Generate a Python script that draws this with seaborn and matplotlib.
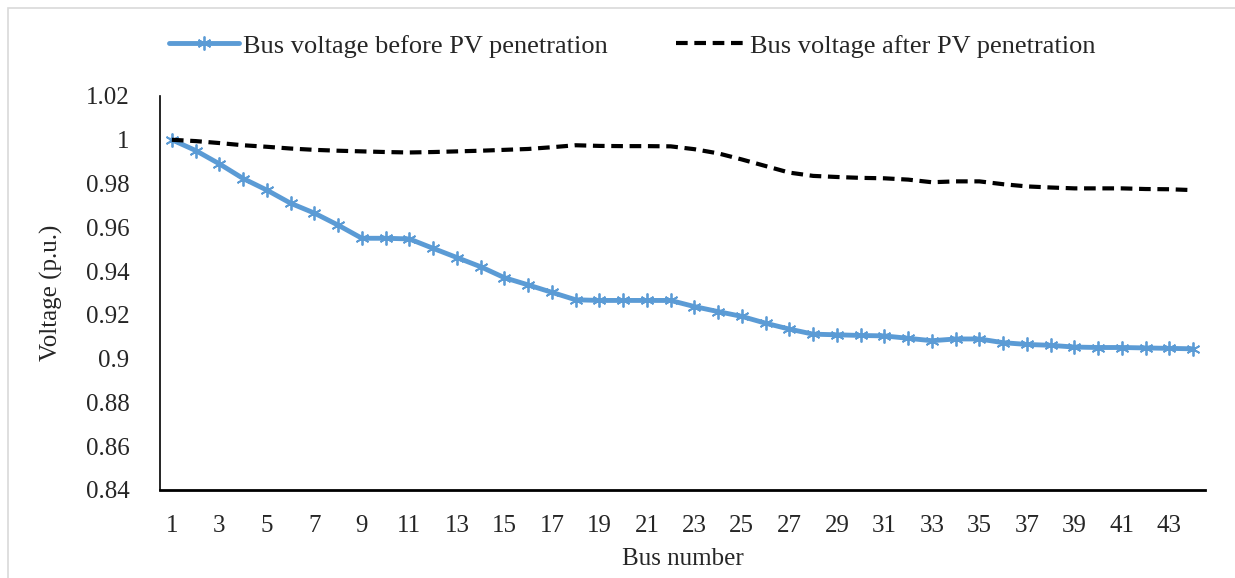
import numpy as np
import pandas as pd
import matplotlib.pyplot as plt
import seaborn as sns
from matplotlib.patches import Rectangle

bus = list(range(1, 45))
v_before = [1.000, 0.9951, 0.989, 0.9823, 0.977, 0.971, 0.9665, 0.961, 0.955, 0.955,
            0.9547, 0.9504, 0.9462, 0.942, 0.937, 0.9337, 0.9303, 0.9269, 0.9266, 0.9266,
            0.9266, 0.9266, 0.9238, 0.9215, 0.9193, 0.9162, 0.9135, 0.9112, 0.9109, 0.9106,
            0.9104, 0.9093, 0.9082, 0.909, 0.909, 0.9073, 0.9065, 0.9061, 0.9053, 0.9051,
            0.9051, 0.9049, 0.9047, 0.9045]
v_after = [1.000, 0.9994, 0.9985, 0.9975, 0.9968, 0.996, 0.9954, 0.995, 0.9947, 0.9944,
           0.9942, 0.9944, 0.9947, 0.995, 0.9954, 0.9958, 0.9966, 0.9975, 0.9972, 0.9971,
           0.9971, 0.997, 0.9957, 0.9938, 0.991, 0.988, 0.985, 0.9835, 0.983, 0.9826,
           0.9824, 0.9818, 0.9806, 0.981, 0.981, 0.9797, 0.9787, 0.9782, 0.9778, 0.9778,
           0.9778, 0.9775, 0.9774, 0.977]
labels = ["Bus voltage before PV penetration", "Bus voltage after PV penetration"]

df = pd.DataFrame({"bus": bus, "before": v_before, "after": v_after})

sns.set_style("white")
plt.rcParams['font.family'] = ['Liberation Serif', 'DejaVu Serif']

fig = plt.figure(figsize=(12.35, 5.78), dpi=100)
ax = fig.add_axes([160 / 1235, 1 - 490 / 578, 1045 / 1235, 394 / 578])

sns.lineplot(data=df, x="bus", y="before", ax=ax, color="#5B9BD5", lw=3.5,
             marker=(6, 2, 0), markersize=10, markeredgewidth=1.3,
             markeredgecolor="#5B9BD5", label=labels[0])
sns.lineplot(data=df, x="bus", y="after", ax=ax, color="black", lw=3,
             label=labels[1])
ax.lines[1].set_linestyle((0, (2.8, 1.6)))

ax.set_xlim(0.5, 44.5)
ax.set_ylim(0.84, 1.02)
ax.set_xticks(bus[::2])
ax.set_xticklabels([str(b) for b in bus[::2]])
ax.set_yticks(np.round(np.arange(0.84, 1.0201, 0.02), 2))
ax.set_yticklabels(["0.84", "0.86", "0.88", "0.9", "0.92", "0.94", "0.96", "0.98", "1", "1.02"])
ax.tick_params(axis="both", length=0, labelsize=18)
ax.tick_params(axis="x", pad=18)
ax.tick_params(axis="y", pad=22)

for s in ["top", "right"]:
    ax.spines[s].set_visible(False)
ax.spines["left"].set_color("black")
ax.spines["left"].set_linewidth(1.2)
ax.spines["bottom"].set_color("black")
ax.spines["bottom"].set_linewidth(2)

ax.set_xlabel("Bus number", fontsize=18, labelpad=8)
ax.set_ylabel("Voltage (p.u.)", fontsize=18, labelpad=16)

ax.legend(loc="center", bbox_to_anchor=(632 / 1235, 1 - 46 / 578),
          bbox_transform=fig.transFigure, ncol=2, frameon=False, fontsize=19,
          handlelength=2.65, handletextpad=0.15, columnspacing=2.6)

fig.patches.append(Rectangle((8 / 1235, -0.05), 1.1, 1.05 - 8 / 578,
                             transform=fig.transFigure, fill=False,
                             edgecolor="#D9D9D9", lw=1.2))

fig.savefig("out.png", dpi=100)
